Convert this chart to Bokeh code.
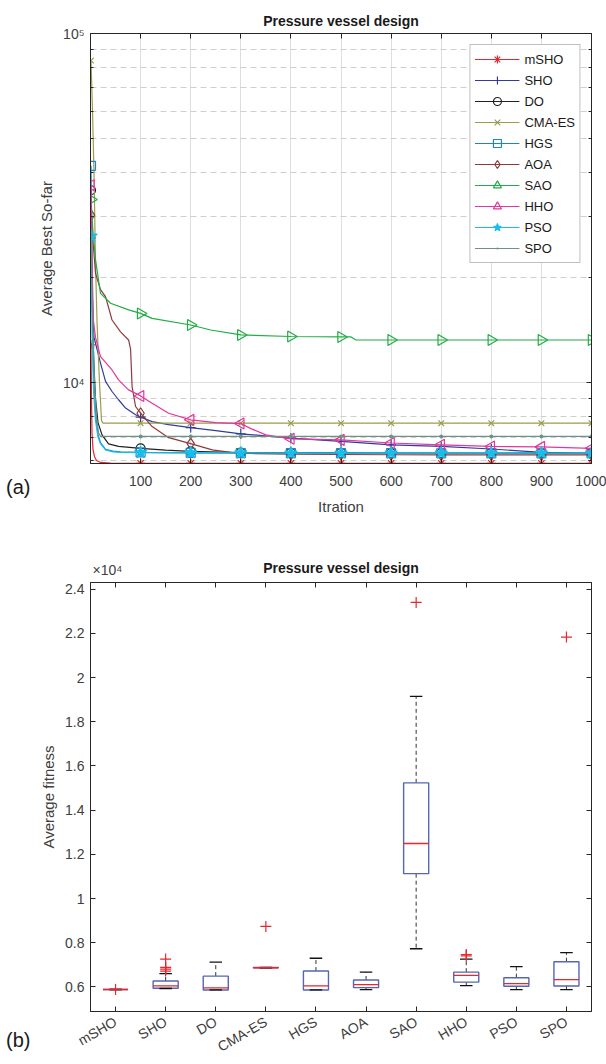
import math
import numpy as np
from bokeh.plotting import figure
from bokeh.layouts import column, row
from bokeh.models import (FixedTicker, LinearAxis, LogAxis, Legend, LegendItem,
                          CustomJSTickFormatter, Range1d, Div)
from bokeh.core.properties import value
from bokeh.embed import file_html
from bokeh.resources import INLINE

# ---------------- data: convergence curves (a) ----------------
mSHO_it = [1, 2, 3, 5, 8, 12, 20, 40, 100, 200, 300, 400, 500, 600, 700, 800, 900, 1000]
mSHO_val = [12850, 9000, 7200, 6450, 6150, 6000, 5920, 5895, 5888, 5886, 5886, 5885, 5885, 5885, 5885, 5885, 5885, 5885]

SHO_it = [1, 3, 7, 20, 30, 43, 56, 70, 90, 100, 123, 156, 200, 250, 300, 400, 500, 600, 700, 800, 900, 1000]
SHO_val = [26000, 17000, 13500, 11400, 10100, 9450, 8950, 8470, 8110, 7980, 7750, 7600, 7450, 7300, 7150, 6950, 6800, 6650, 6580, 6470, 6330, 6270]

DO_it = [1, 3, 6, 10, 15, 23, 36, 56, 100, 150, 200, 300, 400, 500, 600, 700, 800, 900, 1000]
DO_val = [35600, 20000, 12000, 9000, 7700, 7100, 6690, 6580, 6500, 6420, 6370, 6320, 6310, 6305, 6300, 6300, 6300, 6300, 6300]

CMAES_it = [1, 4, 7, 10, 13, 18, 22, 25, 100, 200, 300, 400, 500, 600, 700, 800, 900, 1000]
CMAES_val = [83700, 60000, 40000, 22000, 15000, 10000, 7800, 7670, 7670, 7670, 7670, 7670, 7670, 7670, 7670, 7670, 7670, 7670]

HGS_it = [1, 3, 6, 10, 15, 20, 30, 45, 60, 100, 200, 300, 400, 500, 600, 700, 800, 900, 1000]
HGS_val = [41800, 20000, 11000, 8200, 7100, 6750, 6450, 6380, 6350, 6330, 6310, 6300, 6300, 6295, 6295, 6290, 6290, 6290, 6290]

AOA_it = [1, 10, 20, 30, 43, 60, 76, 80, 83, 90, 100, 123, 156, 200, 243, 280, 320, 400, 500, 600, 700, 800, 900, 1000]
AOA_val = [30200, 20600, 18500, 17650, 15140, 14000, 13270, 12500, 9760, 8560, 8190, 7500, 6970, 6700, 6430, 6330, 6280, 6250, 6240, 6230, 6225, 6220, 6220, 6220]

SAO_it = [1, 5, 10, 20, 40, 76, 100, 123, 200, 240, 300, 400, 500, 520, 530, 600, 700, 800, 900, 1000]
SAO_val = [33500, 27000, 22500, 18040, 16900, 16180, 15810, 15300, 14650, 14170, 13720, 13580, 13540, 13540, 13270, 13270, 13270, 13270, 13270, 13270]

HHO_it = [1, 3, 6, 10, 20, 43, 56, 76, 100, 123, 156, 200, 250, 300, 320, 350, 400, 500, 600, 700, 800, 900, 1000]
HHO_val = [36800, 22000, 15000, 13500, 11890, 10890, 10200, 9550, 9180, 8750, 8190, 7840, 7700, 7650, 7400, 7100, 6920, 6870, 6730, 6650, 6580, 6560, 6500]

PSO_it = [1, 3, 6, 10, 15, 20, 30, 45, 60, 100, 200, 300, 400, 500, 600, 700, 800, 900, 1000]
PSO_val = [26300, 14000, 9500, 7800, 7000, 6700, 6430, 6350, 6330, 6320, 6310, 6305, 6300, 6300, 6300, 6300, 6300, 6300, 6300]

SPO_it = [1, 4, 8, 12, 16, 20, 100, 200, 300, 400, 500, 600, 700, 800, 900, 1000]
SPO_val = [26500, 16000, 10000, 8000, 7200, 7030, 7030, 7030, 7030, 7030, 7030, 7030, 7030, 7030, 7030, 7030]

marker_iters = [1, 100, 200, 300, 400, 500, 600, 700, 800, 900, 1000]
x_ticks_a = [100, 200, 300, 400, 500, 600, 700, 800, 900, 1000]

# ---------------- data: box plot (b), values in units of 1e4 ----------------
cats = ["mSHO", "SHO", "DO", "CMA-ES", "HGS", "AOA", "SAO", "HHO", "PSO", "SPO"]
box_q1 = [0.5885, 0.594, 0.5865, 0.687, 0.5865, 0.597, 1.1126, 0.622, 0.603, 0.6045]
box_med = [0.5885, 0.6045, 0.5955, 0.687, 0.6045, 0.611, 1.249, 0.6526, 0.615, 0.633]
box_q3 = [0.5885, 0.627, 0.649, 0.688, 0.672, 0.6315, 1.5236, 0.667, 0.642, 0.714]
whisk_lo = [0.5885, 0.593, 0.5865, 0.687, 0.5865, 0.588, 0.773, 0.606, 0.588, 0.588]
whisk_hi = [0.5885, 0.660, 0.712, 0.688, 0.730, 0.667, 1.915, 0.726, 0.692, 0.755]
outliers = [[0.5885], [0.726, 0.689, 0.681, 0.672], [], [0.874], [], [], [2.340], [0.747, 0.741], [], [2.183]]
y_ticks_b = [0.6, 0.8, 1.0, 1.2, 1.4, 1.6, 1.8, 2.0, 2.2, 2.4]

title_text = "Pressure vessel design"

# ---------------- styles ----------------
FONT = "Liberation Sans"
AX = "#262626"
TXT = "#404040"
RED = "#e8262b"
TAG_W = 33

series = [
    ("mSHO", mSHO_it, mSHO_val, RED, "asterisk", 9, 0.0, False),
    ("SHO", SHO_it, SHO_val, "#2e3d9c", "cross", 10, 0.0, False),
    ("DO", DO_it, DO_val, "#222222", "circle", 9, 0.0, False),
    ("CMA-ES", CMAES_it, CMAES_val, "#9c9c4e", "x", 8, 0.0, False),
    ("HGS", HGS_it, HGS_val, "#1f86bd", "square", 9, 0.0, False),
    ("AOA", AOA_it, AOA_val, "#8c3b3b", "diamond", 11, 0.0, False),
    ("SAO", SAO_it, SAO_val, "#1fae45", "triangle", 11, -math.pi / 2, False),
    ("HHO", HHO_it, HHO_val, "#e2379c", "triangle", 11, math.pi / 2, False),
    ("PSO", PSO_it, PSO_val, "#18bdea", "star", 13, 0.0, True),
    ("SPO", SPO_it, SPO_val, "#6e9384", "dot", 16, 0.0, True),
]


def style_axis(ax):
    ax.axis_line_color = AX
    ax.major_tick_line_color = AX
    ax.minor_tick_line_color = AX
    ax.major_tick_in = 5
    ax.major_tick_out = 0
    ax.minor_tick_in = 3
    ax.minor_tick_out = 0
    ax.major_label_text_font = FONT
    ax.major_label_text_font_size = "14px"
    ax.major_label_text_color = TXT
    ax.axis_label_text_font = FONT
    ax.axis_label_text_font_style = "normal"
    ax.axis_label_text_font_size = "15px"
    ax.axis_label_text_color = TXT


def hidden_axis(cls, ticker):
    ax = cls(ticker=ticker)
    style_axis(ax)
    ax.formatter = CustomJSTickFormatter(code="return '';")
    ax.major_label_text_font_size = "1px"
    ax.major_label_text_alpha = 0
    ax.major_label_standoff = 0
    return ax


def side_tag(text, w, h, top):
    html = ('<div style="margin:0;padding:0;padding-top:%dpx;padding-left:6px;'
            'font-family:\'Liberation Sans\',Arial,sans-serif;font-size:20px;line-height:21px;'
            'color:#1a1a1a;">%s</div>' % (top, text))
    return Div(text=html, width=w, height=h, margin=0)


# ---------------- figure (a) ----------------
p1 = figure(width=606 - TAG_W, height=540, x_range=Range1d(0, 1000), y_range=Range1d(5880, 1e5),
            y_axis_type="log", output_backend="svg", toolbar_location=None,
            min_border_left=90 - TAG_W, min_border_right=15, min_border_top=33, min_border_bottom=77,
            title=title_text)
p1.title.align = "center"
p1.title.text_font = FONT
p1.title.text_font_size = "14px"
p1.title.text_font_style = "bold"
p1.title.text_color = "#1a1a1a"
p1.outline_line_color = AX

xt = FixedTicker(ticks=x_ticks_a)
yt = FixedTicker(ticks=[1e4, 1e5], minor_ticks=[6000, 7000, 8000, 9000, 20000, 30000, 40000,
                                                 50000, 60000, 70000, 80000, 90000])
p1.xaxis.ticker = xt
p1.xgrid.ticker = xt
p1.yaxis.ticker = yt
p1.ygrid.ticker = yt
p1.yaxis.formatter = CustomJSTickFormatter(code="return tick > 50000 ? '10⁵' : '10⁴';")
for ax in p1.xaxis + p1.yaxis:
    style_axis(ax)
p1.xaxis.axis_label = "Itration"
p1.yaxis.axis_label = "Average Best So-far"
p1.xaxis.major_label_standoff = 12
p1.xaxis.axis_label_standoff = 9
p1.yaxis.major_label_standoff = 6
p1.yaxis.axis_label_standoff = 5
p1.add_layout(hidden_axis(LinearAxis, xt), "above")
p1.add_layout(hidden_axis(LogAxis, yt), "right")

p1.xgrid.grid_line_color = "#dedede"
p1.ygrid.grid_line_color = "#dedede"
p1.ygrid.minor_grid_line_color = "#cfcfcf"
p1.ygrid.minor_grid_line_dash = "6 4"

items = []
for name, its, vals, color, mk, size, ang, filled in series:
    rl = p1.line(its, vals, line_color=color, line_width=1.2)
    mx = [i for i in its if i in marker_iters]
    my = [v for i, v in zip(its, vals) if i in marker_iters]
    rm = p1.scatter(mx, my, marker=mk, size=size, angle=ang, line_color=color,
                    fill_color=color if filled else None, line_width=1.2)
    items.append(LegendItem(label=name, renderers=[rl, rm]))

legend = Legend(items=items, location="top_right")
legend.label_text_font = FONT
legend.label_text_font_size = "13px"
legend.label_text_color = "#1a1a1a"
legend.glyph_width = 45
legend.glyph_height = 20
legend.label_height = 20
legend.spacing = 1
legend.padding = 4
legend.margin = 11
legend.label_standoff = 5
legend.border_line_color = "#808080"
legend.background_fill_alpha = 1.0
p1.add_layout(legend)

# ---------------- figure (b) ----------------
p2 = figure(width=606 - TAG_W, height=486, x_range=Range1d(0.5, 10.5), y_range=Range1d(0.489, 2.43),
            output_backend="svg", toolbar_location=None,
            min_border_left=90 - TAG_W, min_border_right=15, min_border_top=4, min_border_bottom=51)
p2.outline_line_color = AX
p2.grid.visible = False

pos = np.arange(1, len(cats) + 1)
xt2 = FixedTicker(ticks=[int(i) for i in pos])
yt2 = FixedTicker(ticks=y_ticks_b)
p2.xaxis.ticker = xt2
p2.yaxis.ticker = yt2
p2.xaxis.major_label_overrides = {int(i): c for i, c in zip(pos, cats)}
p2.yaxis.formatter = CustomJSTickFormatter(code="return String(Number(tick.toFixed(1)));")
for ax in p2.xaxis + p2.yaxis:
    style_axis(ax)
p2.xaxis.major_label_orientation = math.pi / 6
p2.yaxis.axis_label = "Average fitness"
p2.yaxis.major_label_standoff = 6
p2.yaxis.axis_label_standoff = 5
p2.xaxis.major_label_standoff = 9
p2.add_layout(hidden_axis(LinearAxis, xt2), "above")
p2.add_layout(hidden_axis(LinearAxis, yt2), "right")

BOX = "#5566b3"
p2.segment(x0=pos, y0=box_q3, x1=pos, y1=whisk_hi, line_color="#333333", line_dash="4 3", line_width=1)
p2.segment(x0=pos, y0=box_q1, x1=pos, y1=whisk_lo, line_color="#333333", line_dash="4 3", line_width=1)
p2.quad(left=pos - 0.25, right=pos + 0.25, bottom=box_q1, top=box_q3, fill_color=None,
        line_color=BOX, line_width=1.4)
p2.segment(x0=pos - 0.125, x1=pos + 0.125, y0=whisk_hi, y1=whisk_hi, line_color="#111111", line_width=1.3)
p2.segment(x0=pos - 0.125, x1=pos + 0.125, y0=whisk_lo, y1=whisk_lo, line_color="#111111", line_width=1.3)
p2.segment(x0=pos - 0.25, x1=pos + 0.25, y0=box_med, y1=box_med, line_color=RED, line_width=1.3)
ox = [float(p) for p, lst in zip(pos, outliers) for _ in lst]
oy = [v for lst in outliers for v in lst]
p2.scatter(ox, oy, marker="cross", size=11, line_color=RED, line_width=1.2)

# ---------------- title strip of (b) ----------------
strip = figure(width=606, height=38, x_range=Range1d(0, 606), y_range=Range1d(0, 38),
               output_backend="svg", toolbar_location=None, min_border=0,
               x_axis_location=None, y_axis_location=None)
strip.grid.visible = False
strip.outline_line_color = None
strip.text(x=[340.5], y=[11], text=[title_text], text_font=value(FONT), text_font_size=value("14px"),
           text_font_style="bold", text_align="center", text_baseline="middle", text_color="#1a1a1a")
strip.text(x=[92], y=[9], text=["×10⁴"], text_font=value(FONT), text_font_size=value("14px"),
           text_align="left", text_baseline="middle", text_color=TXT)

tag_a = side_tag("(a)", TAG_W, 540, 477)
tag_b = side_tag("(b)", TAG_W, 486, 452)

layout = column(row(tag_a, p1), strip, row(tag_b, p2))
open("out.html", "w").write(file_html(layout, INLINE))
